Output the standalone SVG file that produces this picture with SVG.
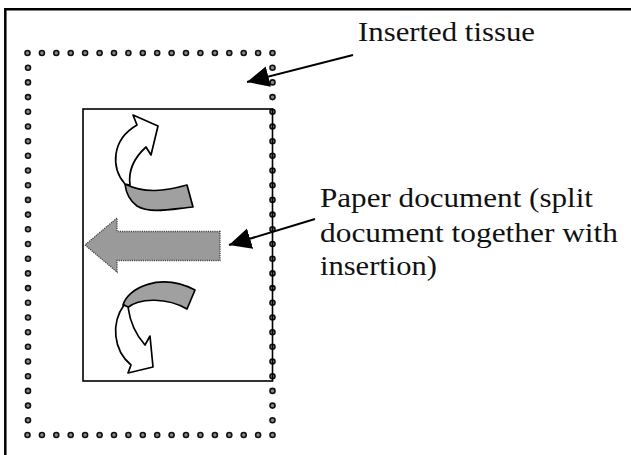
<svg xmlns="http://www.w3.org/2000/svg" width="631" height="455" viewBox="0 0 631 455">
<style>
.frame{fill:none;stroke:#000;stroke-width:2.5}
.dot{fill:#8a8a8a;stroke:#111;stroke-width:1.6}
.doc{fill:none;stroke:#000;stroke-width:1.6}
.ribbon{fill:#fff;stroke:#000;stroke-width:1.7;stroke-linejoin:round}
.band{fill:#a0a0a0;stroke:#000;stroke-width:1.7;stroke-linejoin:round}
.flat{fill:#9a9a9a;stroke:#444;stroke-width:1.3;stroke-dasharray:1.2 1}
.lbl{font-family:"Liberation Serif","Times New Roman",serif;font-size:27px;fill:#111}
.conn{stroke:#000;stroke-width:2;fill:none}
</style>
<defs>
<marker id="head" markerUnits="userSpaceOnUse" markerWidth="24" markerHeight="24" refX="22" refY="11" orient="auto">
<path d="M0,0.5 L22,11 L0,21.5 Z" fill="#000"/>
</marker>
</defs>
<g id="outer-frame">
<path class="frame" d="M5.3,455 V9.3 H631"/>
</g>
<g id="inserted-tissue">
<circle class="dot" cx="27.5" cy="53" r="2.5"/><circle class="dot" cx="41.9" cy="53" r="2.5"/><circle class="dot" cx="56.3" cy="53" r="2.5"/><circle class="dot" cx="70.7" cy="53" r="2.5"/><circle class="dot" cx="85.1" cy="53" r="2.5"/><circle class="dot" cx="99.6" cy="53" r="2.5"/><circle class="dot" cx="114" cy="53" r="2.5"/><circle class="dot" cx="128.4" cy="53" r="2.5"/><circle class="dot" cx="142.8" cy="53" r="2.5"/><circle class="dot" cx="157.2" cy="53" r="2.5"/><circle class="dot" cx="171.6" cy="53" r="2.5"/><circle class="dot" cx="186" cy="53" r="2.5"/><circle class="dot" cx="200.4" cy="53" r="2.5"/><circle class="dot" cx="214.9" cy="53" r="2.5"/><circle class="dot" cx="229.3" cy="53" r="2.5"/><circle class="dot" cx="243.7" cy="53" r="2.5"/><circle class="dot" cx="258.1" cy="53" r="2.5"/><circle class="dot" cx="272.5" cy="53" r="2.5"/>
<circle class="dot" cx="27.5" cy="435" r="2.5"/><circle class="dot" cx="41.9" cy="435" r="2.5"/><circle class="dot" cx="56.3" cy="435" r="2.5"/><circle class="dot" cx="70.7" cy="435" r="2.5"/><circle class="dot" cx="85.1" cy="435" r="2.5"/><circle class="dot" cx="99.6" cy="435" r="2.5"/><circle class="dot" cx="114" cy="435" r="2.5"/><circle class="dot" cx="128.4" cy="435" r="2.5"/><circle class="dot" cx="142.8" cy="435" r="2.5"/><circle class="dot" cx="157.2" cy="435" r="2.5"/><circle class="dot" cx="171.6" cy="435" r="2.5"/><circle class="dot" cx="186" cy="435" r="2.5"/><circle class="dot" cx="200.4" cy="435" r="2.5"/><circle class="dot" cx="214.9" cy="435" r="2.5"/><circle class="dot" cx="229.3" cy="435" r="2.5"/><circle class="dot" cx="243.7" cy="435" r="2.5"/><circle class="dot" cx="258.1" cy="435" r="2.5"/><circle class="dot" cx="272.5" cy="435" r="2.5"/>
<circle class="dot" cx="28" cy="67.7" r="2.5"/><circle class="dot" cx="28" cy="82.4" r="2.5"/><circle class="dot" cx="28" cy="97.1" r="2.5"/><circle class="dot" cx="28" cy="111.8" r="2.5"/><circle class="dot" cx="28" cy="126.5" r="2.5"/><circle class="dot" cx="28" cy="141.2" r="2.5"/><circle class="dot" cx="28" cy="155.8" r="2.5"/><circle class="dot" cx="28" cy="170.5" r="2.5"/><circle class="dot" cx="28" cy="185.2" r="2.5"/><circle class="dot" cx="28" cy="199.9" r="2.5"/><circle class="dot" cx="28" cy="214.6" r="2.5"/><circle class="dot" cx="28" cy="229.3" r="2.5"/><circle class="dot" cx="28" cy="244" r="2.5"/><circle class="dot" cx="28" cy="258.7" r="2.5"/><circle class="dot" cx="28" cy="273.4" r="2.5"/><circle class="dot" cx="28" cy="288.1" r="2.5"/><circle class="dot" cx="28" cy="302.8" r="2.5"/><circle class="dot" cx="28" cy="317.5" r="2.5"/><circle class="dot" cx="28" cy="332.2" r="2.5"/><circle class="dot" cx="28" cy="346.8" r="2.5"/><circle class="dot" cx="28" cy="361.5" r="2.5"/><circle class="dot" cx="28" cy="376.2" r="2.5"/><circle class="dot" cx="28" cy="390.9" r="2.5"/><circle class="dot" cx="28" cy="405.6" r="2.5"/><circle class="dot" cx="28" cy="420.3" r="2.5"/>
<circle class="dot" cx="272.5" cy="67.7" r="2.5"/><circle class="dot" cx="272.5" cy="82.4" r="2.5"/><circle class="dot" cx="272.5" cy="97.1" r="2.5"/><circle class="dot" cx="272.5" cy="111.8" r="2.5"/><circle class="dot" cx="272.5" cy="126.5" r="2.5"/><circle class="dot" cx="272.5" cy="141.2" r="2.5"/><circle class="dot" cx="272.5" cy="155.8" r="2.5"/><circle class="dot" cx="272.5" cy="170.5" r="2.5"/><circle class="dot" cx="272.5" cy="185.2" r="2.5"/><circle class="dot" cx="272.5" cy="199.9" r="2.5"/><circle class="dot" cx="272.5" cy="214.6" r="2.5"/><circle class="dot" cx="272.5" cy="229.3" r="2.5"/><circle class="dot" cx="272.5" cy="244" r="2.5"/><circle class="dot" cx="272.5" cy="258.7" r="2.5"/><circle class="dot" cx="272.5" cy="273.4" r="2.5"/><circle class="dot" cx="272.5" cy="288.1" r="2.5"/><circle class="dot" cx="272.5" cy="302.8" r="2.5"/><circle class="dot" cx="272.5" cy="317.5" r="2.5"/><circle class="dot" cx="272.5" cy="332.2" r="2.5"/><circle class="dot" cx="272.5" cy="346.8" r="2.5"/><circle class="dot" cx="272.5" cy="361.5" r="2.5"/><circle class="dot" cx="272.5" cy="376.2" r="2.5"/><circle class="dot" cx="272.5" cy="390.9" r="2.5"/><circle class="dot" cx="272.5" cy="405.6" r="2.5"/><circle class="dot" cx="272.5" cy="420.3" r="2.5"/>
</g>
<g id="paper-document">
<rect class="doc" x="83" y="109" width="189.5" height="272"/>
<path class="band" d="M125,184 C145,194 165,191 187,185 L193,207 C172,209 150,214 137,206 C130,201 126,193 125,184 Z"/>
<path class="ribbon" d="M125,184 C111,168 111,140 137,125 L133,115 L158,126 L151,155 L146,147 C135,157 128,170 130,185 Z"/>
<path class="flat" d="M220,231.5 L117,231.5 L117,218 L85,245 L117,272 L117,260.5 L220,260.5 Z"/>
<path class="band" d="M123,305 C128,288 160,272 195,290 L187,309 C168,298 140,297 127,308 Z"/>
<path class="ribbon" d="M124,305 C111,323 113,350 131,365 L128,373 L153,367 L150,336 L145,345 C136,335 130,322 128,307 Z"/>
</g>
<g id="label-inserted-tissue">
<text class="lbl" x="358" y="41" textLength="177" lengthAdjust="spacingAndGlyphs">Inserted tissue</text>
</g>
<g id="label-paper-document">
<text class="lbl" x="320" y="207" textLength="273" lengthAdjust="spacingAndGlyphs">Paper document (split</text>
<text class="lbl" x="320" y="242" textLength="298" lengthAdjust="spacingAndGlyphs">document together with</text>
<text class="lbl" x="320" y="275" textLength="117" lengthAdjust="spacingAndGlyphs">insertion)</text>
</g>
<g id="connectors">
<line class="conn" x1="353" y1="55" x2="247" y2="82" marker-end="url(#head)"/>
<line class="conn" x1="315" y1="219" x2="229" y2="245" marker-end="url(#head)"/>
</g>
</svg>
